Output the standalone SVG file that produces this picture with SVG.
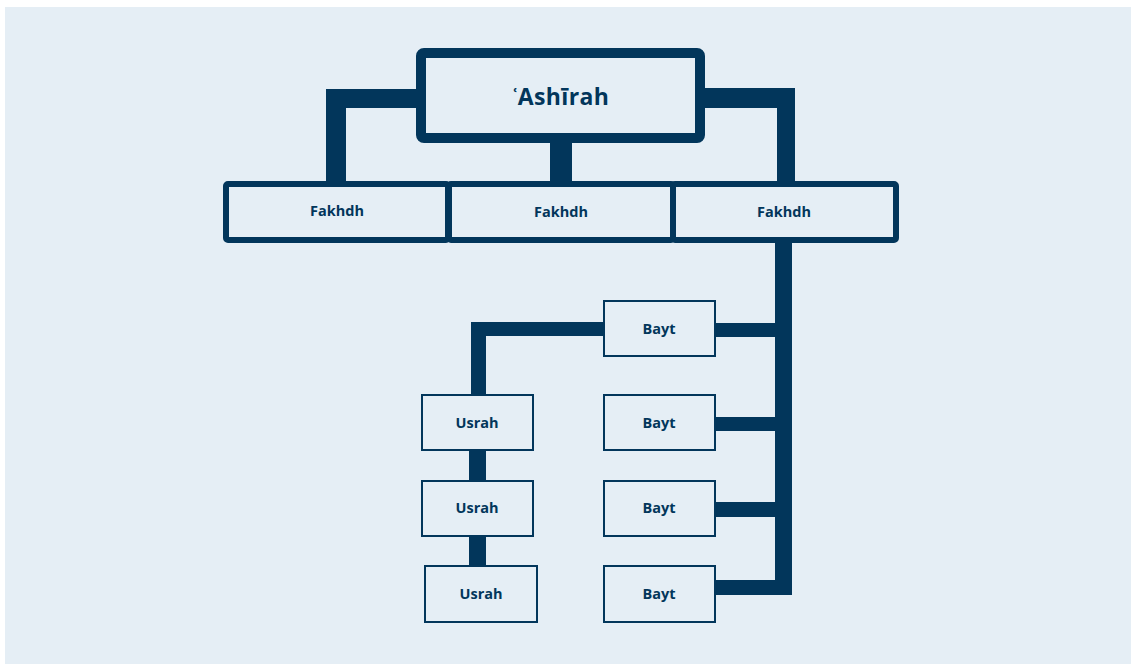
<svg xmlns="http://www.w3.org/2000/svg" width="1131" height="664" viewBox="0 0 1131 664">
<style>
.bg{fill:#e5eef5}
.ln{fill:#02365b}
.top{fill:#e5eef5;stroke:#02365b;stroke-width:10}
.mid{fill:#e5eef5;stroke:#02365b;stroke-width:6}
.low{fill:#e5eef5;stroke:#02365b;stroke-width:2}
text{font-family:"Open Sans",Lato,"Liberation Sans",sans-serif;font-weight:700;fill:#02365b;text-anchor:middle}
.t1{font-size:23px;letter-spacing:0.4px}
.t2{font-size:14.5px}
</style>
<rect x="0" y="0" width="1131" height="664" fill="#ffffff"/>
<rect class="bg" x="5" y="7" width="1126" height="657"/>
<g id="connectors">
<path class="ln" d="M326 89H418V108H346V182H326Z"/>
<path class="ln" d="M704 88H795V182H777V108H704Z"/>
<rect class="ln" x="550" y="140" width="22" height="42"/>
<rect class="ln" x="775" y="241" width="17" height="354"/>
<rect class="ln" x="715" y="323" width="62" height="14"/>
<rect class="ln" x="715" y="417" width="62" height="14"/>
<rect class="ln" x="715" y="502" width="62" height="15"/>
<rect class="ln" x="715" y="580" width="62" height="15"/>
<path class="ln" d="M471 322H604V336H486V395H471Z"/>
<rect class="ln" x="469" y="450" width="17" height="31"/>
<rect class="ln" x="469" y="536" width="17" height="30"/>
</g>
<g id="ashirah">
<rect class="top" x="421" y="53" width="279" height="85" rx="3"/>
<text class="t1" x="561" y="105">ʿAshīrah</text>
</g>
<g id="fakhdh1">
<rect class="mid" x="226" y="184" width="222" height="56" rx="2"/>
<text class="t2" x="337" y="216">Fakhdh</text>
</g>
<g id="fakhdh2">
<rect class="mid" x="449" y="184" width="224" height="56" rx="2"/>
<text class="t2" x="561" y="217">Fakhdh</text>
</g>
<g id="fakhdh3">
<rect class="mid" x="673" y="184" width="223" height="56" rx="2"/>
<text class="t2" x="784" y="217">Fakhdh</text>
</g>
<g id="bayt1">
<rect class="low" x="604" y="301" width="111" height="55"/>
<text class="t2" x="659" y="334">Bayt</text>
</g>
<g id="bayt2">
<rect class="low" x="604" y="395" width="111" height="55"/>
<text class="t2" x="659" y="428">Bayt</text>
</g>
<g id="bayt3">
<rect class="low" x="604" y="481" width="111" height="55"/>
<text class="t2" x="659" y="513">Bayt</text>
</g>
<g id="bayt4">
<rect class="low" x="604" y="566" width="111" height="56"/>
<text class="t2" x="659" y="599">Bayt</text>
</g>
<g id="usrah1">
<rect class="low" x="422" y="395" width="111" height="55"/>
<text class="t2" x="477" y="428">Usrah</text>
</g>
<g id="usrah2">
<rect class="low" x="422" y="481" width="111" height="55"/>
<text class="t2" x="477" y="513">Usrah</text>
</g>
<g id="usrah3">
<rect class="low" x="425" y="566" width="112" height="56"/>
<text class="t2" x="481" y="599">Usrah</text>
</g>
</svg>
